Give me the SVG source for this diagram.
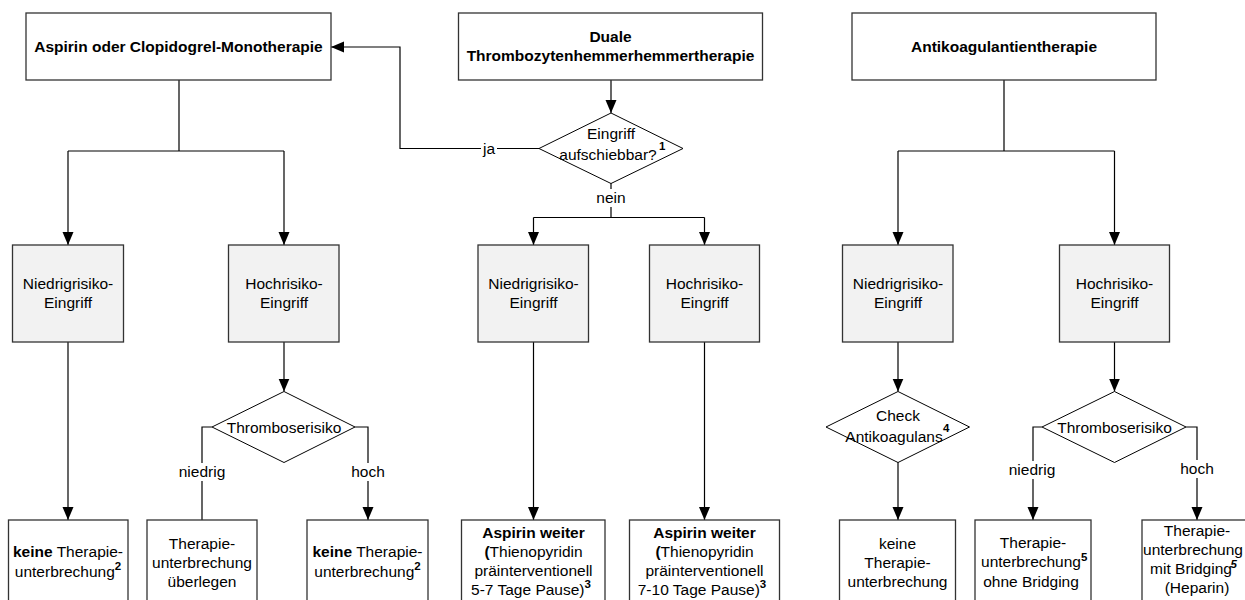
<svg xmlns="http://www.w3.org/2000/svg" width="1245" height="600" viewBox="0 0 1245 600">
<defs>
<marker id="ah" markerUnits="userSpaceOnUse" markerWidth="14" markerHeight="12" refX="13" refY="5.5" orient="auto">
<path d="M0,0 L13,5.5 L0,11 z" fill="#000"/>
</marker>
<style>
text{font-family:"Liberation Sans",Arial,sans-serif;font-size:15.5px;fill:#000;text-anchor:middle}
.b{font-weight:bold}
.sup{font-weight:bold;font-size:11.5px;text-anchor:start}
.ts{font-weight:bold;font-size:11.5px}
.box{fill:#fff;stroke:#333;stroke-width:1.3}
.gbox{fill:#f2f2f2;stroke:#333;stroke-width:1.3}
.dia{fill:#fff;stroke:#000;stroke-width:1}
.c{fill:none;stroke:#000;stroke-width:1.2}
.a{fill:none;stroke:#000;stroke-width:1.2;marker-end:url(#ah)}
.lbg{fill:#fff;stroke:none}
</style>
</defs>

<g id="connectors">
<!-- left column -->
<path class="c" d="M179,80 V151 M68,151 H284"/>
<path class="a" d="M68,151 V245"/>
<path class="a" d="M284,151 V245"/>
<path class="a" d="M68,342 V520"/>
<path class="a" d="M284,342 V391.5"/>
<path class="c" d="M212,427 H202 V520"/>
<path class="a" d="M355,427 H368 V520"/>
<!-- middle column -->
<path class="a" d="M611,80 V113"/>
<path class="a" d="M539,148.5 H400 V47 H331"/>
<path class="c" d="M611,183 V217.5 M533.5,217.5 H704.5"/>
<path class="a" d="M533.5,217.5 V245"/>
<path class="a" d="M704.5,217.5 V245"/>
<path class="a" d="M533.5,342 V520"/>
<path class="a" d="M704.5,342 V520"/>
<!-- right column -->
<path class="c" d="M1004,80 V151 M898,151 H1114.5"/>
<path class="a" d="M898,151 V245"/>
<path class="a" d="M1114.5,151 V245"/>
<path class="a" d="M898,342 V391.5"/>
<path class="a" d="M898,462 V520"/>
<path class="a" d="M1114.5,342 V391.5"/>
<path class="a" d="M1042,427 H1033 V520"/>
<path class="a" d="M1186,427 H1197 V520"/>
<!-- labels -->
<rect class="lbg" x="481" y="141" width="16" height="16"/>
<text x="489" y="154">ja</text>
<rect class="lbg" x="594" y="189" width="34" height="18"/>
<text x="611" y="203">nein</text>
<rect class="lbg" x="179" y="463" width="46" height="18"/>
<text x="202" y="476.5">niedrig</text>
<rect class="lbg" x="351" y="463" width="34" height="18"/>
<text x="368" y="476.5">hoch</text>
<rect class="lbg" x="1010" y="461" width="46" height="18"/>
<text x="1032" y="474.5">niedrig</text>
<rect class="lbg" x="1180" y="460" width="34" height="18"/>
<text x="1197" y="473.5">hoch</text>
</g>

<!-- top boxes -->
<g id="n-mono">
<rect class="box" x="26" y="13" width="305" height="67"/>
<text class="b" x="178.5" y="52">Aspirin oder Clopidogrel-Monotherapie</text>
</g>
<g id="n-dual">
<rect class="box" x="458.5" y="13" width="304" height="67"/>
<text class="b" x="610.5" y="42">Duale</text>
<text class="b" x="610.5" y="61">Thrombozytenhemmerhemmertherapie</text>
</g>
<g id="n-anti">
<rect class="box" x="852" y="13" width="304" height="67"/>
<text class="b" x="1004" y="52">Antikoagulantientherapie</text>
</g>

<!-- decision -->
<g id="d-aufschiebbar">
<polygon class="dia" points="611,113 683,148.5 611,183.5 539,148.5"/>
<text x="611" y="138.5">Eingriff</text>
<text x="608" y="160">aufschiebbar?</text>
<text class="sup" x="659" y="149.5">1</text>
</g>

<!-- middle row -->
<g id="n-l-niedrig">
<rect class="gbox" x="12.5" y="245" width="111" height="97"/>
<text x="68" y="288.5">Niedrigrisiko-</text>
<text x="68" y="307.5">Eingriff</text>
</g>
<g id="n-l-hoch">
<rect class="gbox" x="228.5" y="245" width="110.5" height="97"/>
<text x="284" y="288.5">Hochrisiko-</text>
<text x="284" y="307.5">Eingriff</text>
</g>
<g id="n-m-niedrig">
<rect class="gbox" x="478" y="245" width="110.5" height="97"/>
<text x="533.5" y="288.5">Niedrigrisiko-</text>
<text x="533.5" y="307.5">Eingriff</text>
</g>
<g id="n-m-hoch">
<rect class="gbox" x="649.5" y="245" width="110" height="97"/>
<text x="704.5" y="288.5">Hochrisiko-</text>
<text x="704.5" y="307.5">Eingriff</text>
</g>
<g id="n-r-niedrig">
<rect class="gbox" x="842.5" y="245" width="110.5" height="97"/>
<text x="898" y="288.5">Niedrigrisiko-</text>
<text x="898" y="307.5">Eingriff</text>
</g>
<g id="n-r-hoch">
<rect class="gbox" x="1059.5" y="245" width="110" height="97"/>
<text x="1114.5" y="288.5">Hochrisiko-</text>
<text x="1114.5" y="307.5">Eingriff</text>
</g>

<!-- diamonds lower -->
<g id="d-l-thrombose">
<polygon class="dia" points="284,391.5 355,427 284,462.5 212,427"/>
<text x="284" y="432.5">Thromboserisiko</text>
</g>
<g id="d-check">
<polygon class="dia" points="898,391.5 969.5,427 898,462.5 826,427"/>
<text x="898" y="420.5">Check</text>
<text x="894" y="441.5">Antikoagulans</text>
<text class="sup" x="943" y="432">4</text>
</g>
<g id="d-r-thrombose">
<polygon class="dia" points="1114.5,391.5 1186,427 1114.5,462.5 1042,427"/>
<text x="1114.5" y="432.5">Thromboserisiko</text>
</g>

<!-- bottom boxes -->
<g id="n-l-keine1">
<rect class="box" x="8.5" y="520" width="119.5" height="90"/>
<text x="68" y="557"><tspan class="b">keine</tspan> Therapie-</text>
<text x="68" y="577">unterbrechung<tspan class="ts" dy="-7.5">2</tspan></text>
</g>
<g id="n-l-ueberlegen">
<rect class="box" x="147" y="520" width="110" height="90"/>
<text x="202" y="548.5">Therapie-</text>
<text x="202" y="568">unterbrechung</text>
<text x="202" y="586.5">überlegen</text>
</g>
<g id="n-l-keine2">
<rect class="box" x="307" y="520" width="121" height="90"/>
<text x="367.5" y="557"><tspan class="b">keine</tspan> Therapie-</text>
<text x="367.5" y="577">unterbrechung<tspan class="ts" dy="-7.5">2</tspan></text>
</g>
<g id="n-m-aspirin1">
<rect class="box" x="461.5" y="520" width="143.5" height="90"/>
<text class="b" x="533.5" y="538">Aspirin weiter</text>
<text x="533.5" y="556.5"><tspan class="b">(</tspan>Thienopyridin</text>
<text x="533.5" y="575.5">präinterventionell</text>
<text x="531" y="595">5-7 Tage Pause)<tspan class="ts" dy="-7">3</tspan></text>
</g>
<g id="n-m-aspirin2">
<rect class="box" x="629.5" y="520" width="150" height="90"/>
<text class="b" x="704.5" y="538">Aspirin weiter</text>
<text x="704.5" y="556.5"><tspan class="b">(</tspan>Thienopyridin</text>
<text x="704.5" y="575.5">präinterventionell</text>
<text x="702" y="595">7-10 Tage Pause)<tspan class="ts" dy="-7">3</tspan></text>
</g>
<g id="n-r-keine">
<rect class="box" x="839.5" y="520" width="116" height="90"/>
<text x="897.5" y="548.5">keine</text>
<text x="897.5" y="568">Therapie-</text>
<text x="897.5" y="587">unterbrechung</text>
</g>
<g id="n-r-ohne">
<rect class="box" x="975" y="520" width="116" height="90"/>
<text x="1033" y="547.5">Therapie-</text>
<text x="1031" y="567">unterbrechung</text>
<text x="1031" y="586.5">ohne Bridging</text>
<text class="sup" x="1081" y="560.5">5</text>
</g>
<g id="n-r-mit">
<rect class="box" x="1142" y="520" width="112" height="90"/>
<text x="1197" y="535.5">Therapie-</text>
<text x="1193" y="555" font-size="15px">unterbrechung</text>
<text x="1191" y="574">mit Bridging</text>
<text class="sup" x="1230.5" y="567.5" font-style="italic">5</text>
<text x="1197" y="593">(Heparin)</text>
</g>
</svg>
